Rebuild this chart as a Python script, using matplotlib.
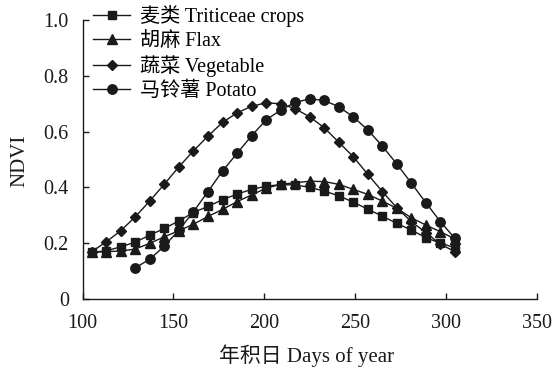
import matplotlib
matplotlib.use('Agg')
import matplotlib.pyplot as plt

plt.rcParams['font.family'] = ['Liberation Serif', 'Noto Sans CJK SC']

# 年积日 (day of year)
days = [105, 113, 121, 129, 137, 145, 153, 161, 169, 177, 185, 193, 201,
        209, 217, 225, 233, 241, 249, 257, 265, 273, 281, 289, 297, 305]
days_potato = days[3:]

triticeae = [0.167, 0.173, 0.187, 0.204, 0.229, 0.253, 0.280, 0.310, 0.332,
             0.356, 0.376, 0.393, 0.404, 0.410, 0.409, 0.400, 0.387, 0.370,
             0.347, 0.322, 0.297, 0.271, 0.247, 0.220, 0.200, 0.184]
flax = [0.167, 0.170, 0.172, 0.179, 0.200, 0.223, 0.245, 0.268, 0.296,
        0.321, 0.349, 0.373, 0.397, 0.411, 0.417, 0.422, 0.421, 0.411,
        0.393, 0.375, 0.351, 0.325, 0.291, 0.265, 0.241, 0.215]
vegetable = [0.170, 0.205, 0.245, 0.295, 0.352, 0.412, 0.474, 0.531, 0.584,
             0.633, 0.667, 0.691, 0.703, 0.700, 0.682, 0.653, 0.614, 0.562,
             0.510, 0.447, 0.385, 0.327, 0.277, 0.238, 0.196, 0.170]
potato = [0.112, 0.143, 0.190, 0.247, 0.313, 0.385, 0.459, 0.522, 0.585,
          0.642, 0.677, 0.705, 0.717, 0.712, 0.689, 0.653, 0.606, 0.548,
          0.484, 0.415, 0.345, 0.277, 0.217]

labels = ['麦类 Triticeae crops', '胡麻 Flax', '蔬菜 Vegetable', '马铃薯 Potato']
xticks = [100, 150, 200, 250, 300, 350]
yticks = [0, 0.2, 0.4, 0.6, 0.8, 1.0]
ytick_labels = ['0', '0.2', '0.4', '0.6', '0.8', '1.0']

fs = 14.5
ink = '#1a1a1a'

fig = plt.figure(figsize=(5.55, 3.74), dpi=100)
ax = fig.add_axes([0.149, 0.2005, 0.818, 0.746])

ax.plot(days, triticeae, color=ink, lw=1, marker='s', ms=6.3, label=labels[0])
ax.plot(days, flax, color=ink, lw=1, marker='^', ms=6.8, label=labels[1])
ax.plot(days, vegetable, color=ink, lw=1, marker='D', ms=4.6, label=labels[2])
ax.plot(days_potato, potato, color=ink, lw=1, marker='o', ms=6.8, label=labels[3])

ax.set_xlim(100, 350)
ax.set_ylim(0, 1.0)
ax.set_xticks(xticks)
ax.set_yticks(yticks)
ax.set_yticklabels(ytick_labels)
ax.tick_params(direction='in', length=4, width=1, labelsize=fs, colors=ink)
ax.tick_params(axis='x', pad=11)
ax.tick_params(axis='y', pad=10)
for s in ['top', 'right']:
    ax.spines[s].set_visible(False)
for s in ['left', 'bottom']:
    ax.spines[s].set_linewidth(1)
    ax.spines[s].set_color(ink)

ax.set_xlabel('年积日 Days of year', fontsize=15, color=ink)
ax.set_ylabel('NDVI', fontsize=15, color=ink)
ax.xaxis.set_label_coords(0.493, -0.164)
ax.yaxis.set_label_coords(-0.117, 0.495)

ax.legend(loc='upper left', bbox_to_anchor=(0.023, 1.053), frameon=False,
          fontsize=fs, handlelength=1.85, handletextpad=0.5, labelspacing=0.22,
          borderpad=0, borderaxespad=0)

fig.savefig('out.png', dpi=100)
